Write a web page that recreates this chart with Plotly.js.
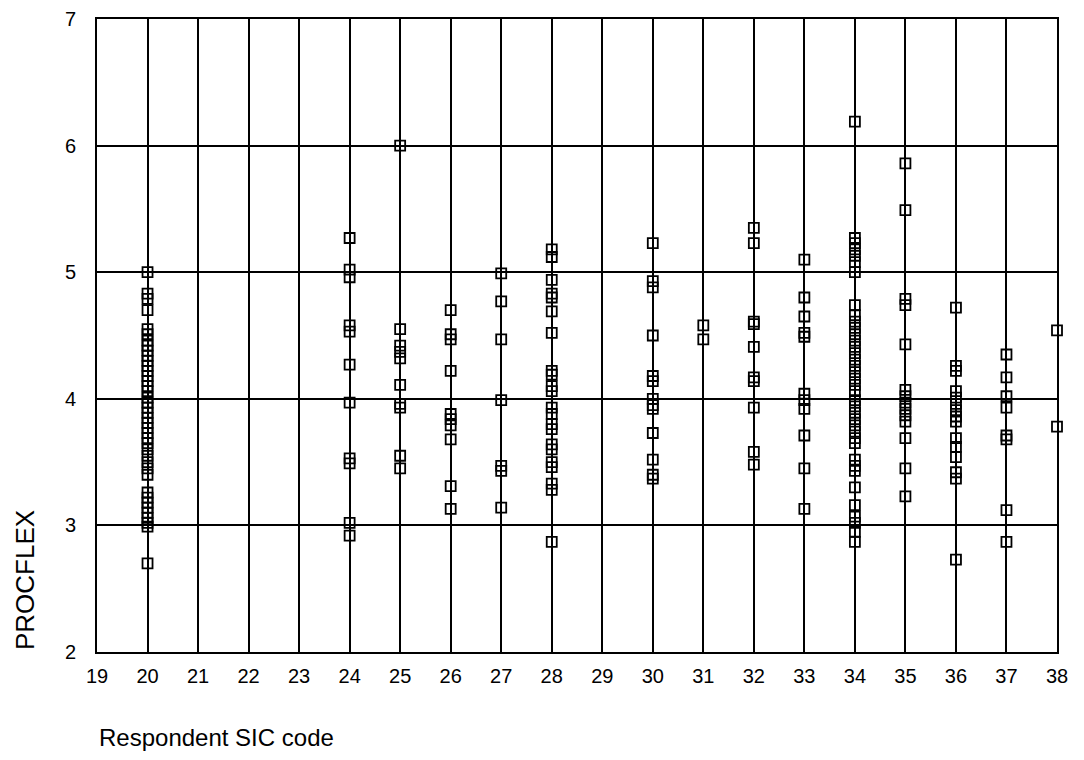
<!DOCTYPE html>
<html>
<head>
<meta charset="utf-8">
<script src="https://cdn.plot.ly/plotly-3.0.1.min.js"></script>
<style>
  html, body { margin: 0; padding: 0; background: #fff; }
  #chart { width: 1084px; height: 760px; }
</style>
</head>
<body>
<div id="chart"></div>
<script>
// SIC codes that have respondents
const sicCodes = [20, 24, 25, 26, 27, 28, 30, 31, 32, 33, 34, 35, 36, 37, 38];

// PROCFLEX values per SIC code
const sic20 = [5.00, 4.83, 4.79, 4.70, 4.55, 4.51, 4.46, 4.42, 4.38, 4.34, 4.30, 4.26, 4.22, 4.18, 4.14, 4.10, 4.06, 4.01, 3.97, 3.93, 3.89, 3.85, 3.81, 3.77, 3.73, 3.69, 3.65, 3.60, 3.55, 3.50, 3.45, 3.40, 3.26, 3.22, 3.18, 3.14, 3.10, 3.06, 3.02, 2.99, 2.70];
const sic24 = [5.27, 5.02, 4.96, 4.58, 4.53, 4.27, 3.97, 3.53, 3.49, 3.02, 2.92];
const sic25 = [6.00, 4.55, 4.42, 4.37, 4.32, 4.11, 3.96, 3.93, 3.55, 3.45];
const sic26 = [4.70, 4.51, 4.47, 4.22, 3.88, 3.84, 3.79, 3.68, 3.31, 3.13];
const sic27 = [4.99, 4.77, 4.47, 3.99, 3.47, 3.43, 3.14];
const sic28 = [5.18, 5.12, 4.94, 4.83, 4.80, 4.69, 4.52, 4.22, 4.19, 4.10, 4.06, 3.93, 3.88, 3.80, 3.76, 3.64, 3.60, 3.50, 3.46, 3.33, 3.28, 2.87];
const sic30 = [5.23, 4.93, 4.88, 4.50, 4.18, 4.14, 4.00, 3.95, 3.92, 3.73, 3.52, 3.40, 3.37];
const sic31 = [4.58, 4.47];
const sic32 = [5.35, 5.23, 4.61, 4.59, 4.41, 4.17, 4.14, 3.93, 3.58, 3.48];
const sic33 = [5.10, 4.80, 4.65, 4.52, 4.49, 4.04, 3.99, 3.92, 3.71, 3.45, 3.13];
const sic34 = [6.19, 5.27, 5.23, 5.18, 5.13, 5.08, 5.00, 4.74, 4.66, 4.61, 4.56, 4.51, 4.46, 4.41, 4.36, 4.31, 4.26, 4.21, 4.16, 4.11, 4.06, 3.99, 3.94, 3.89, 3.84, 3.79, 3.74, 3.69, 3.65, 3.52, 3.47, 3.43, 3.30, 3.16, 3.07, 3.02, 2.95, 2.87];
const sic35 = [5.86, 5.49, 4.79, 4.74, 4.43, 4.07, 4.02, 3.97, 3.92, 3.87, 3.82, 3.69, 3.45, 3.23];
const sic36 = [4.72, 4.26, 4.22, 4.06, 4.01, 3.96, 3.91, 3.86, 3.82, 3.69, 3.62, 3.54, 3.42, 3.37, 2.73];
const sic37 = [4.35, 4.17, 4.02, 3.93, 3.71, 3.68, 3.12, 2.87];
const sic38 = [4.54, 3.78];

const valuesByCode = [sic20, sic24, sic25, sic26, sic27, sic28, sic30, sic31, sic32, sic33, sic34, sic35, sic36, sic37, sic38];

// Axis tick labels
const xTicks = [19, 20, 21, 22, 23, 24, 25, 26, 27, 28, 29, 30, 31, 32, 33, 34, 35, 36, 37, 38];
const yTicks = [2, 3, 4, 5, 6, 7];

const xs = [], ys = [];
valuesByCode.forEach((vals, i) => {
  vals.forEach(v => { xs.push(sicCodes[i]); ys.push(v); });
});

const FONT = '"Liberation Sans", Arial, Helvetica, sans-serif';

const trace = {
  type: 'scatter',
  mode: 'markers',
  x: xs,
  y: ys,
  cliponaxis: false,
  marker: { symbol: 'square-open', size: 10, color: '#000', line: { width: 1.8, color: '#000' } },
  hoverinfo: 'x+y',
  showlegend: false
};

const layout = {
  width: 1084,
  height: 760,
  margin: { l: 97, r: 27, t: 19, b: 108 },
  paper_bgcolor: '#fff',
  plot_bgcolor: '#fff',
  font: { family: FONT, color: '#000', size: 20 },
  xaxis: {
    range: [19, 38],
    tickmode: 'array',
    tickvals: xTicks,
    ticktext: xTicks.map(String),
    showgrid: true,
    gridcolor: '#000',
    gridwidth: 2,
    zeroline: false,
    showline: true,
    linecolor: '#000',
    linewidth: 2,
    mirror: true,
    ticks: '',
    ticklabelstandoff: 5,
    tickfont: { family: FONT, size: 20, color: '#000' }
  },
  yaxis: {
    range: [2, 7],
    tickmode: 'array',
    tickvals: yTicks,
    ticktext: yTicks.map(String),
    showgrid: true,
    gridcolor: '#000',
    gridwidth: 2,
    zeroline: false,
    showline: true,
    linecolor: '#000',
    linewidth: 2,
    mirror: true,
    ticks: '',
    ticklabelstandoff: 15,
    tickfont: { family: FONT, size: 20, color: '#000' }
  },
  annotations: [
    {
      text: 'PROCFLEX',
      xref: 'paper', yref: 'paper',
      x: -0.075, y: 0,
      xanchor: 'center', yanchor: 'bottom',
      textangle: -90,
      showarrow: false,
      font: { family: FONT, size: 26, color: '#000' }
    },
    {
      text: 'Respondent SIC code',
      xref: 'paper', yref: 'paper',
      x: 0, y: -0.11,
      xanchor: 'left', yanchor: 'top',
      showarrow: false,
      font: { family: FONT, size: 24, color: '#000' }
    }
  ]
};

Plotly.newPlot('chart', [trace], layout, { displayModeBar: false, staticPlot: true });
</script>
</body>
</html>
